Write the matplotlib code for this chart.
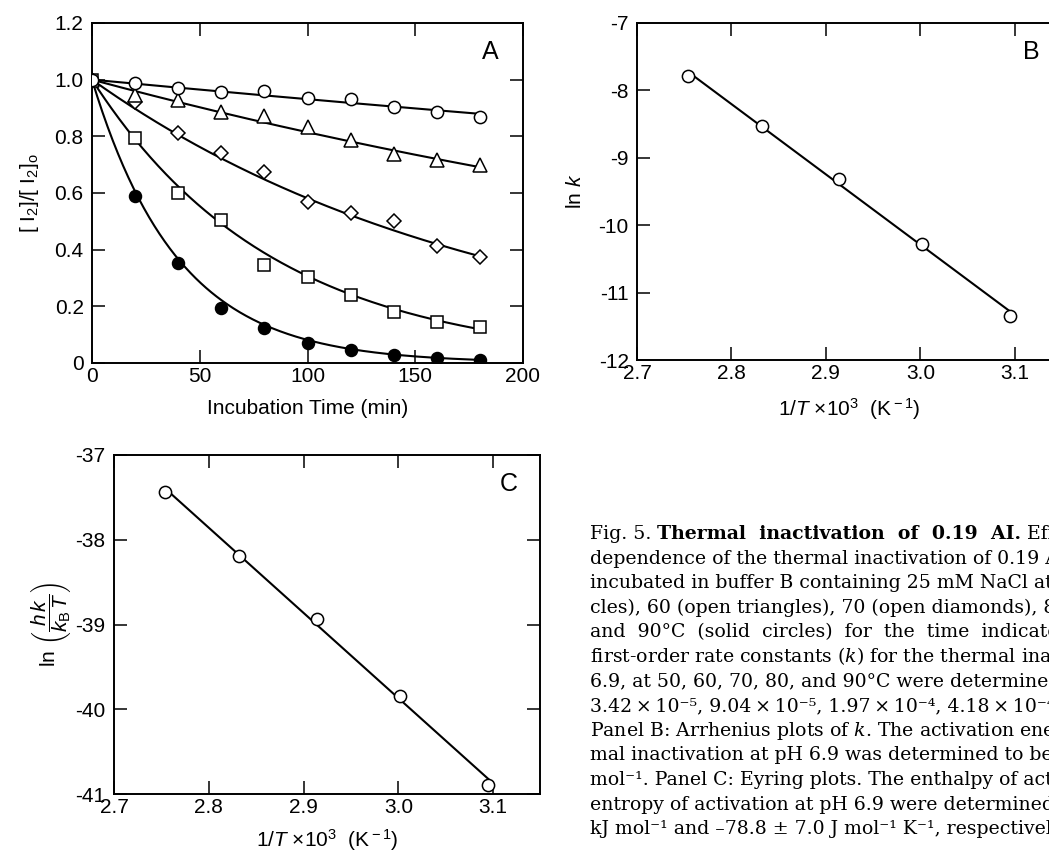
import numpy as np
import matplotlib
matplotlib.use('Agg')
import matplotlib.pyplot as plt

plt.rcParams['font.family'] = ['Liberation Sans', 'DejaVu Sans']
plt.rcParams['mathtext.fontset'] = 'custom'
plt.rcParams['mathtext.rm'] = 'Liberation Sans'
plt.rcParams['mathtext.it'] = 'Liberation Sans:italic'
plt.rcParams['mathtext.bf'] = 'Liberation Sans:bold'
plt.rcParams['axes.unicode_minus'] = False

# panel A: remaining activity vs incubation time
time_min = [0, 20, 40, 60, 80, 100, 120, 140, 160, 180]
frac_50 = [1.0, 0.989, 0.972, 0.958, 0.961, 0.934, 0.932, 0.902, 0.886, 0.868]
frac_60 = [1.0, 0.946, 0.927, 0.885, 0.873, 0.834, 0.786, 0.739, 0.715, 0.699]
frac_70 = [1.0, 0.922, 0.811, 0.742, 0.675, 0.569, 0.528, 0.501, 0.414, 0.375]
frac_80 = [1.0, 0.793, 0.601, 0.505, 0.346, 0.305, 0.240, 0.181, 0.144, 0.126]
frac_90 = [1.0, 0.589, 0.354, 0.193, 0.122, 0.069, 0.046, 0.028, 0.016, 0.011]
# first-order rate constants (s^-1), 50..90 C
rate_k = [1.19e-5, 3.42e-5, 9.04e-5, 1.97e-4, 4.18e-4]

# panels B and C (90, 80, 70, 60, 50 C)
inv_T = [2.754, 2.832, 2.914, 3.002, 3.095]
ln_k = [-7.78, -8.53, -9.31, -10.28, -11.34]
ln_eyring = [-37.44, -38.19, -38.93, -39.84, -40.89]

caption = [
    "dependence of the thermal inactivation of 0.19 AI",
    "incubated in buffer B containing 25 mM NaCl at",
    "cles), 60 (open triangles), 70 (open diamonds), 80 (open",
    "and  90°C  (solid  circles)  for  the  time  indicated.",
    "first-order rate constants ($k$) for the thermal inactivation",
    "6.9, at 50, 60, 70, 80, and 90°C were determined to",
    "3.42\u2009×\u200910⁻⁵, 9.04\u2009×\u200910⁻⁵, 1.97\u2009×\u200910⁻⁴, 4.18\u2009×\u200910⁻⁴ s⁻¹",
    "Panel B: Arrhenius plots of $k$. The activation energy",
    "mal inactivation at pH 6.9 was determined to be",
    "mol⁻¹. Panel C: Eyring plots. The enthalpy of activation",
    "entropy of activation at pH 6.9 were determined",
    "kJ mol⁻¹ and –78.8 ± 7.0 J mol⁻¹ K⁻¹, respectively.",
]

W, H = 1049, 856
fig = plt.figure(figsize=(W / 100, H / 100), dpi=100)


def px_axes(l, t, r, b):
    return fig.add_axes([l / W, 1 - b / H, (r - l) / W, (b - t) / H])


def style(ax):
    ax.tick_params(direction='in', top=True, right=True, length=9.5,
                   width=1.1, labelsize=15)
    ax.tick_params(axis='x', pad=3)
    ax.tick_params(axis='y', pad=6)
    for s in ax.spines.values():
        s.set_linewidth(1.4)


# ---- panel A
axA = px_axes(92, 23, 523, 363)
t_fit = np.linspace(0, 180, 300)
series = [(frac_90, rate_k[4], 'o', 'black', 8.6),
          (frac_80, rate_k[3], 's', 'white', 8.4),
          (frac_70, rate_k[2], 'D', 'white', 7.0),
          (frac_60, rate_k[1], '^', 'white', 10.0),
          (frac_50, rate_k[0], 'o', 'white', 8.8)]
for vals, k, m, fc, ms in series:
    axA.plot(t_fit, np.exp(-k * 60 * t_fit), color='black', lw=1.5, zorder=2)
for vals, k, m, fc, ms in series:
    axA.plot(time_min, vals, ls='none', marker=m, ms=ms, mfc=fc,
             mec='black', mew=1.1, zorder=3)
axA.set_xlim(0, 200)
axA.set_ylim(0, 1.2)
axA.set_xticks([0, 50, 100, 150, 200])
axA.set_yticks([0, 0.2, 0.4, 0.6, 0.8, 1.0, 1.2])
axA.set_yticklabels(['0', '0.2', '0.4', '0.6', '0.8', '1.0', '1.2'])
axA.set_xlabel('Incubation Time (min)', fontsize=15, labelpad=9)
axA.set_ylabel(r'[ I$_2$]/[ I$_2$]$_{\rm o}$', fontsize=15, labelpad=10)
axA.text(184.7, 1.098, 'A', fontsize=18, ha='center', va='center')
style(axA)

# ---- panel B
axB = px_axes(637, 23, 1062, 360)
coef = np.polyfit(inv_T, ln_k, 1)
xs = np.array([inv_T[0], inv_T[-1]])
axB.plot(xs, np.polyval(coef, xs), color='black', lw=1.5, zorder=2)
axB.plot(inv_T, ln_k, ls='none', marker='o', ms=8.8, mfc='white',
         mec='black', mew=1.1, zorder=3)
axB.set_xlim(2.7, 3.15)
axB.set_ylim(-12, -7)
axB.set_xticks([2.7, 2.8, 2.9, 3.0, 3.1])
axB.set_xticklabels(['2.7', '2.8', '2.9', '3.0', '3.1'])
axB.set_yticks([-12, -11, -10, -9, -8, -7])
axB.set_xlabel(r'1/$T$ $\times$10$^3$  (K$^{\rm -1}$)', fontsize=15, labelpad=9)
axB.set_ylabel(r'ln $k$', fontsize=15, labelpad=10)
axB.text(3.117, -7.43, 'B', fontsize=18, ha='center', va='center')
style(axB)

# ---- panel C
axC = px_axes(114, 455, 540, 794)
coef = np.polyfit(inv_T, ln_eyring, 1)
axC.plot(xs, np.polyval(coef, xs), color='black', lw=1.5, zorder=2)
axC.plot(inv_T, ln_eyring, ls='none', marker='o', ms=8.8, mfc='white',
         mec='black', mew=1.1, zorder=3, clip_on=False)
axC.set_xlim(2.7, 3.1495)
axC.set_ylim(-41, -37)
axC.set_xticks([2.7, 2.8, 2.9, 3.0, 3.1])
axC.set_xticklabels(['2.7', '2.8', '2.9', '3.0', '3.1'])
axC.set_yticks([-41, -40, -39, -38, -37])
axC.set_xlabel(r'1/$T$ $\times$10$^3$  (K$^{\rm -1}$)', fontsize=15, labelpad=7)
axC.set_ylabel(r'ln $\left(\dfrac{h\,k}{k_{\rm B}\,T}\right)$', fontsize=15, labelpad=2)
axC.text(3.116, -37.34, 'C', fontsize=18, ha='center', va='center')
style(axC)

# ---- caption
cap_x = 590 / W
y0 = 539
dy = 24.6
fs = 13.6
cap_kw = dict(family='DejaVu Serif', fontsize=fs, va='baseline',
              math_fontfamily='dejavuserif')
t1 = fig.text(cap_x, 1 - y0 / H, 'Fig. 5. ', **cap_kw)
t2 = fig.text(0, 0, 'Thermal  inactivation  of  0.19  AI.', fontweight='bold',
              **cap_kw)
fig.canvas.draw()
bb = t1.get_window_extent()
t2.set_position((bb.x1 / W, 1 - y0 / H))
fig.canvas.draw()
bb2 = t2.get_window_extent()
fig.text(bb2.x1 / W, 1 - y0 / H, ' Effect', **cap_kw)
for i, line in enumerate(caption):
    fig.text(cap_x, 1 - (y0 + dy * (i + 1)) / H, line, **cap_kw)

fig.savefig('out.png', dpi=100)
